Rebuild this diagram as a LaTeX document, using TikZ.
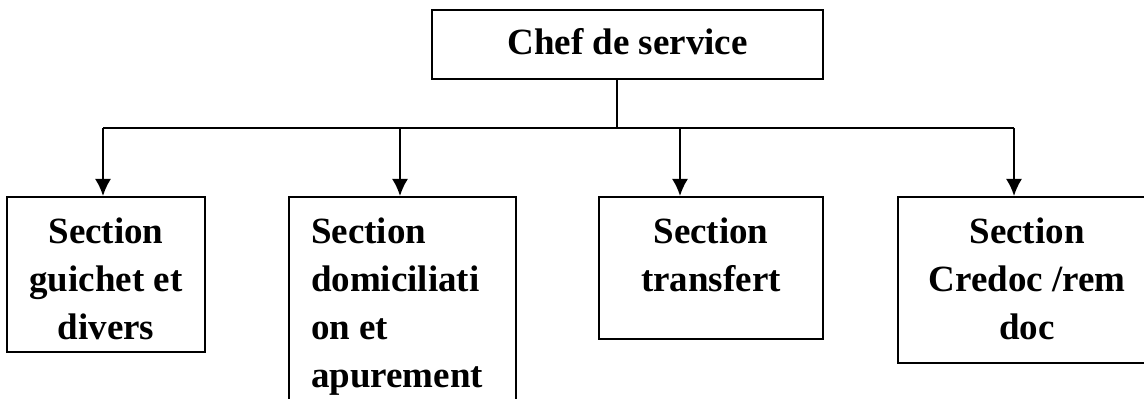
\documentclass[tikz,border=0pt]{standalone}
\usepackage{fontspec}
\setmainfont{Liberation Serif}
\usetikzlibrary{positioning, arrows.meta}

\tikzset{
  unit/.style={draw, line width=1.2pt, inner sep=0pt, anchor=north, font=\bfseries\fontsize{18.5}{24}\selectfont},
  link/.style={line width=1pt},
  feed/.style={line width=1pt, -{Latex[length=8.5pt,width=8pt]}}
}

\begin{document}
\begin{tikzpicture}
    \useasboundingbox (0,0) rectangle (572pt,-199.5pt);
    \node[unit, minimum width=195.5pt, minimum height=34.5pt, text depth=3pt] (chef) at (313.75pt,-4.5pt) {Chef de service};

    \node[unit] (guichet) at (53pt,-98pt) {\parbox[t][77.5pt][t]{99pt}{\centering\rule{0pt}{23pt}Section\\guichet et\\divers}};
    \node[unit] (domic) at (201.25pt,-98pt) {\hspace*{11pt}\parbox[t][115pt][t]{102.5pt}{\raggedright\rule{0pt}{23pt}Section\\domiciliati\\on et\\apurement}};
    \node[unit] (transfert) at (355.5pt,-98pt) {\parbox[t][71pt][t]{112pt}{\centering\rule{0pt}{23pt}Section\\transfert}};
    \node[unit] (credoc) at (513.5pt,-98pt) {\parbox[t][83pt][t]{129pt}{\centering\rule{0pt}{23pt}Section\\Credoc /rem\\doc}};

    \coordinate (stem) at (308.5pt,-64pt);
    \coordinate (tapA) at (51.5pt,-64pt);
    \coordinate (tapB) at (200pt,-64pt);
    \coordinate (tapC) at (340pt,-64pt);
    \coordinate (tapD) at (507pt,-64pt);

    \draw[link] (stem |- chef.south) -- (stem);
    \draw[link] (tapA) -- (tapD);
    \foreach \t/\b in {tapA/guichet, tapB/domic, tapC/transfert, tapD/credoc}
        \draw[feed] (\t) -- (\t |- \b.north);
\end{tikzpicture}
\end{document}
